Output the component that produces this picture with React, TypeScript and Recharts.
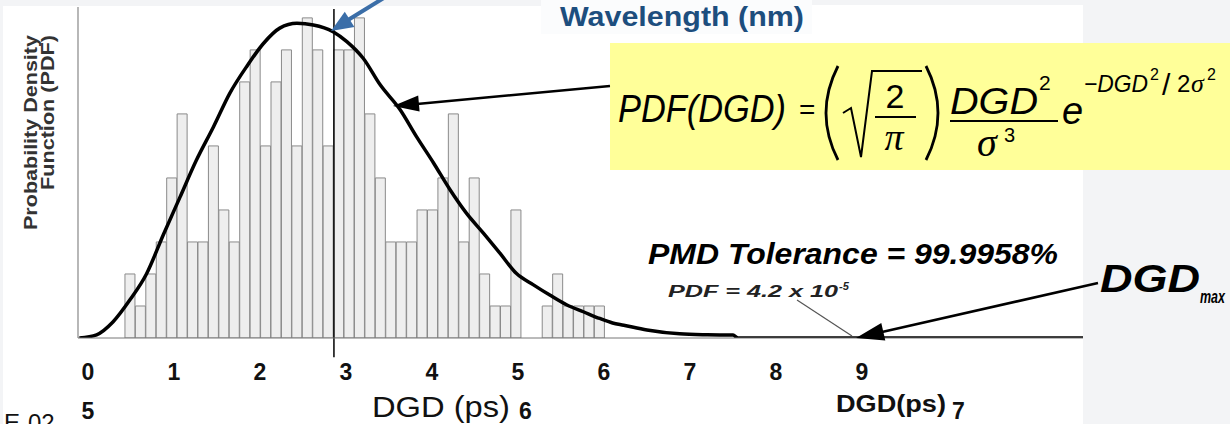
import { ComposedChart, Bar, Line, XAxis, YAxis, ReferenceLine } from 'recharts';

// histogram bins (ps) and counts
const BIN_START = 0.43;
const BIN_WIDTH = 0.1213;
const binCounts = [
  2, 1, 2, 3, 5, 7, 3, 3, 6, 4,
  3, 8, 9, 6, 8, 9, 6, 10, 9, 6,
  9, 9, 10, 7, 5, 3, 3, 3, 4, 4,
  5, 7, 3, 5, 2, 1, 1, 4, 0, 0,
  1, 2, 1, 1, 1, 1,
];

// fitted Maxwellian curve (same units as counts)
const curveX = [
  -0.1, 0.1, 0.29, 0.49, 0.68, 0.88, 1.07, 1.26, 1.46, 1.65,
  1.85, 2.04, 2.23, 2.43, 2.62, 2.85, 3.01, 3.2, 3.4, 3.63,
  3.82, 4.02, 4.21, 4.4, 4.6, 4.79, 4.98, 5.18, 5.37, 5.57,
  5.76, 5.95, 6.1, 6.23, 6.5, 6.88, 7.2, 7.5, 7.56, 9, 11.57,
];
const curveY = [
  0, 0.1, 0.5, 1.2, 2.0, 3.25, 4.4, 5.55, 6.6, 7.65,
  8.5, 9.2, 9.68, 9.83, 9.78, 9.57, 9.26, 8.74, 7.9, 7.13,
  6.29, 5.46, 4.63, 3.9, 3.27, 2.65, 2.02, 1.66, 1.34, 1.03,
  0.82, 0.61, 0.47, 0.4, 0.25, 0.13, 0.1, 0.09, 0, 0, 0,
];

const xTicks = [0, 1, 2, 3, 4, 5, 6, 7, 8, 9];
const MARKER_DGD = 2.86;

const X_MIN = -0.116;
const X_MAX = 11.57;
const Y_MAX = 10.34;

const binData = binCounts.map((count, i) => ({
  x: +(BIN_START + (i + 0.5) * BIN_WIDTH).toFixed(4),
  count,
}));
const curveData = curveX.map((x, i) => ({ x, pdf: curveY[i] }));

const SANS = '"Liberation Sans", Arial, Helvetica, sans-serif';
const SERIF = '"Liberation Serif", "Times New Roman", serif';

const Tick = ({ x, y, payload }: any) => (
  <text x={x} y={y} dy={34} textAnchor="middle" fontFamily={SANS} fontWeight="bold" fontSize={23} fill="#111">
    {payload.value}
  </text>
);

function Overlay() {
  return (
    <svg width={1230} height={424} style={{ position: 'absolute', left: 0, top: 0, pointerEvents: 'none' }}>
      {/* axis title */}
      <g fontFamily={SANS} fontWeight="bold" fontSize={18} fill="#333">
        <text transform="translate(37,35) rotate(-90)" textAnchor="end" textLength={195} lengthAdjust="spacingAndGlyphs">
          Probability Density
        </text>
        <text transform="translate(54,35) rotate(-90)" textAnchor="end" textLength={155} lengthAdjust="spacingAndGlyphs">
          Function (PDF)
        </text>
      </g>

      {/* blue pointer + wavelength header */}
      <line x1={387} y1={-4} x2={348} y2={20} stroke="#3b6ea8" strokeWidth={4} />
      <polygon points="331,31 354.4,26.9 344.8,11.7" fill="#3b6ea8" />
      <text x={560} y={26} fontFamily={SANS} fontWeight="bold" fontSize={27} fill="#1d4e7e" textLength={244} lengthAdjust="spacingAndGlyphs">
        Wavelength (nm)
      </text>

      {/* formula box */}
      <rect x={610} y={43} width={620} height={127} fill="#ffff99" />
      <line x1={610} y1={86} x2={417} y2={104} stroke="#000" strokeWidth={2.5} />
      <polygon points="393,106 419.6,111.6 418.2,95.6" fill="#000" />
      <g fontFamily={SANS} fontStyle="italic" fill="#000">
        <text x={618} y={122} fontSize={38} textLength={168} lengthAdjust="spacingAndGlyphs">PDF(DGD)</text>
        <text x={799} y={119} fontSize={28} fontStyle="normal">=</text>
        <path d="M 838 66 Q 814 113 838 160" stroke="#000" strokeWidth={2.8} fill="none" />
        <path d="M 926 66 Q 950 113 926 160" stroke="#000" strokeWidth={2.8} fill="none" />
        <path d="M 843 113 L 851 108 L 861 157 L 872 71 L 922 71" stroke="#000" strokeWidth={2} fill="none" />
        <text x={895} y={108} fontSize={34} fontStyle="normal" textAnchor="middle">2</text>
        <line x1={875} y1={117} x2={916} y2={117} stroke="#000" strokeWidth={2} />
        <text x={894} y={150} fontSize={38} fontFamily={SERIF} textAnchor="middle">π</text>
        <text x={950} y={114} fontSize={36} textLength={88} lengthAdjust="spacingAndGlyphs">DGD</text>
        <text x={1039} y={90} fontSize={21} fontStyle="normal">2</text>
        <line x1={950} y1={121} x2={1058} y2={121} stroke="#000" strokeWidth={2} />
        <text x={977} y={156} fontSize={40} fontFamily={SERIF}>σ</text>
        <text x={1004} y={142} fontSize={20} fontStyle="normal">3</text>
        <text x={1062} y={124} fontSize={38}>e</text>
        <text x={1084} y={92} fontSize={24} textLength={64} lengthAdjust="spacingAndGlyphs">−DGD</text>
        <text x={1150} y={80} fontSize={16} fontStyle="normal">2</text>
        <text x={1162} y={95} fontSize={30} fontStyle="normal">/</text>
        <text x={1177} y={92} fontSize={24} fontStyle="normal">2</text>
        <text x={1191} y={92} fontSize={26} fontFamily={SERIF}>σ</text>
        <text x={1207} y={80} fontSize={16} fontStyle="normal">2</text>
      </g>

      {/* tolerance annotations */}
      <g fontFamily={SANS} fontWeight="bold" fontStyle="italic" fill="#000">
        <text x={648} y={264} fontSize={29} textLength={410} lengthAdjust="spacingAndGlyphs">PMD Tolerance = 99.9958%</text>
        <text x={668} y={297} fontSize={16} fill="#222" textLength={170} lengthAdjust="spacingAndGlyphs">PDF = 4.2 x 10</text>
        <text x={839} y={290} fontSize={11} fill="#222">-5</text>
        <text x={1100} y={292} fontSize={38} textLength={100} lengthAdjust="spacingAndGlyphs">DGD</text>
        <text x={1200} y={303} fontSize={18} textLength={25} lengthAdjust="spacingAndGlyphs">max</text>
      </g>
      <line x1={797} y1={300} x2={852} y2={336} stroke="#555" strokeWidth={1.2} />
      <line x1={1098} y1={283} x2={882} y2={332} stroke="#000" strokeWidth={2.5} />
      <polygon points="856,338 885.3,340.6 881.3,323" fill="#000" />

      {/* stray slide labels under the axis */}
      <g fontFamily={SANS} fill="#111">
        <text x={4} y={431} fontSize={24}>E-02</text>
        <text x={88} y={419} fontSize={23} fontWeight="bold" textAnchor="middle">5</text>
        <text x={372} y={417} fontSize={29} textLength={138} lengthAdjust="spacingAndGlyphs">DGD (ps)</text>
        <text x={519} y={419} fontSize={23} fontWeight="bold">6</text>
        <text x={836} y={412} fontSize={23} fontWeight="bold" textLength={110} lengthAdjust="spacingAndGlyphs">DGD(ps)</text>
        <text x={952} y={419} fontSize={23} fontWeight="bold">7</text>
      </g>
    </svg>
  );
}

export default function App() {
  return (
    <div style={{ position: 'absolute', left: 0, top: 0, width: 1230, height: 424, background: '#fff', overflow: 'hidden' }}>
      {/* slide background pieces */}
      <div style={{ position: 'absolute', left: 0, top: 0, width: 541, height: 6, background: '#f3f4f6' }} />
      <div style={{ position: 'absolute', left: 541, top: 0, width: 271, height: 34, background: '#fbfcfd' }} />
      <div style={{ position: 'absolute', left: 812, top: 0, width: 271, height: 5, background: '#f3f4f6' }} />
      <div style={{ position: 'absolute', left: 1083, top: 0, width: 147, height: 424, background: '#f3f4f6' }} />
      <div style={{ position: 'absolute', left: 0, top: 0, width: 3, height: 424, background: '#f3f4f6' }} />

      <div style={{ position: 'absolute', left: 0, top: 0 }}>
        <ComposedChart
          width={1230}
          height={424}
          data={binData}
          barCategoryGap={0}
          barGap={0}
          margin={{ top: 7, right: 147, bottom: 56, left: 78 }}
        >
          <XAxis
            dataKey="x"
            type="number"
            domain={[X_MIN, X_MAX]}
            allowDataOverflow
            ticks={xTicks}
            tick={<Tick />}
            tickLine={false}
            axisLine={{ stroke: '#777' }}
            height={30}
          />
          {/* separate hidden axis for the curve so its x samples don't shrink the bar band */}
          <XAxis xAxisId="curve" dataKey="x" type="number" domain={[X_MIN, X_MAX]} allowDataOverflow hide />
          <YAxis hide domain={[0, Y_MAX]} allowDataOverflow />
          <ReferenceLine x={X_MIN} stroke="#888" strokeWidth={1.2} />
          <Bar dataKey="count" fill="#eeeeee" stroke="#8a8a8a" strokeWidth={1} isAnimationActive={false} />
          <ReferenceLine
            segment={[{ x: MARKER_DGD, y: -0.6 }, { x: MARKER_DGD, y: 10.28 }]}
            stroke="#000"
            strokeWidth={1.5}
            ifOverflow="visible"
          />
          <Line
            xAxisId="curve"
            data={curveData}
            dataKey="pdf"
            type="monotone"
            stroke="#000"
            strokeWidth={3.5}
            dot={false}
            isAnimationActive={false}
          />
        </ComposedChart>
      </div>
      <Overlay />
    </div>
  );
}
